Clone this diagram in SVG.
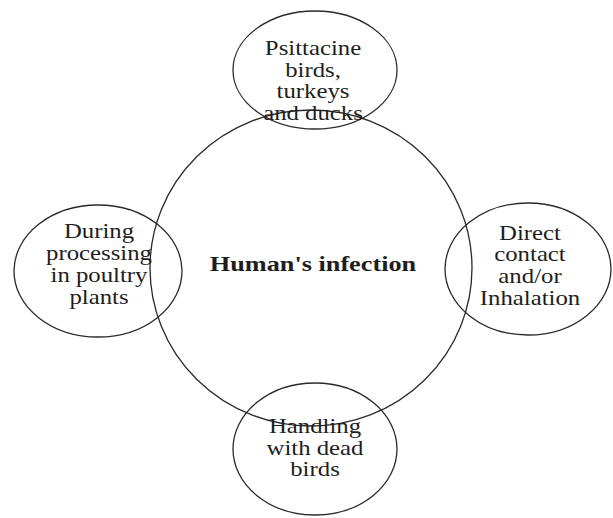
<svg xmlns="http://www.w3.org/2000/svg" width="613" height="518" viewBox="0 0 613 518">
<style>
.c{fill:none;stroke:#2a2a2a;stroke-width:1.3}
.t{font-family:"Liberation Serif","Times New Roman",serif;font-size:21px;fill:#1e1e1e;text-anchor:middle}
.b{font-weight:bold}
</style>
<rect width="613" height="518" fill="#ffffff"/>
<g id="connectors"></g>
<g id="center">
<ellipse class="c" cx="311" cy="268" rx="161" ry="158"/>
<text class="t b" transform="translate(313,271) scale(1.25,1)">Human's infection</text>
</g>
<g id="top">
<ellipse class="c" cx="315" cy="70" rx="82" ry="59"/>
<text class="t" transform="translate(313,0) scale(1.18,1)"><tspan x="0" y="55">Psittacine</tspan><tspan x="0" y="77">birds,</tspan><tspan x="0" y="98">turkeys</tspan><tspan x="0" y="120">and ducks</tspan></text>
</g>
<g id="left">
<ellipse class="c" cx="98" cy="271" rx="84" ry="66"/>
<text class="t" transform="translate(99,0) scale(1.18,1)"><tspan x="0" y="238">During</tspan><tspan x="0" y="260">processing</tspan><tspan x="0" y="282">in poultry</tspan><tspan x="0" y="304">plants</tspan></text>
</g>
<g id="right">
<ellipse class="c" cx="528" cy="269" rx="83" ry="66"/>
<text class="t" transform="translate(530,0) scale(1.18,1)"><tspan x="0" y="240">Direct</tspan><tspan x="0" y="261">contact</tspan><tspan x="0" y="283">and/or</tspan><tspan x="0" y="305">Inhalation</tspan></text>
</g>
<g id="bottom">
<ellipse class="c" cx="315" cy="449" rx="82" ry="66"/>
<text class="t" transform="translate(315,0) scale(1.18,1)"><tspan x="0" y="433">Handling</tspan><tspan x="0" y="455">with dead</tspan><tspan x="0" y="476">birds</tspan></text>
</g>
</svg>
